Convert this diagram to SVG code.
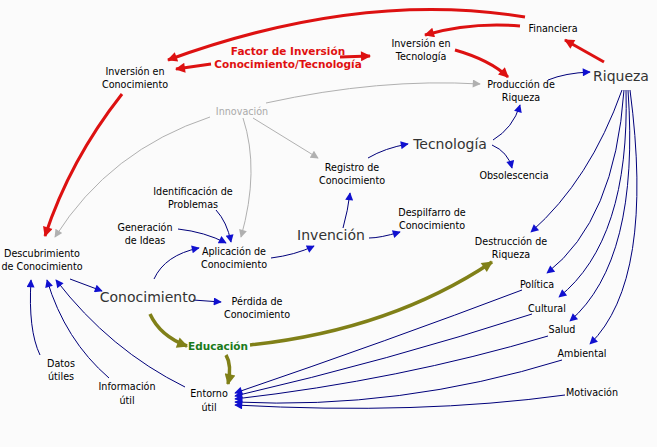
<svg xmlns="http://www.w3.org/2000/svg" width="657" height="447" viewBox="0 0 657 447">
<style>
text{font-family:"DejaVu Sans",sans-serif;font-size:9.6px;fill:#000;text-anchor:middle}
.big{font-size:14px;fill:#333}
.red{fill:#e01010;font-weight:bold;font-size:10.5px}
.grn{fill:#1a7a1a;font-weight:bold;font-size:10.5px}
.gray{fill:#aaa}
#connectors path{fill:none}
.b{stroke:#00007a;stroke-width:1;marker-end:url(#ab)}
.r{stroke:#dd1111;stroke-width:3;marker-end:url(#ar)}
.g{stroke:#b0b0b0;stroke-width:1;marker-end:url(#ag)}
.o{stroke:#808018;stroke-width:3.5;marker-end:url(#ao)}
</style>
<defs>
<marker id="ab" viewBox="0 0 10 10" refX="9" refY="5" markerWidth="12" markerHeight="8" orient="auto" markerUnits="userSpaceOnUse"><path d="M0,0L10,5L0,10z" fill="#1010d0"/></marker>
<marker id="ar" viewBox="0 0 10 10" refX="9" refY="5" markerWidth="15" markerHeight="10" orient="auto" markerUnits="userSpaceOnUse"><path d="M0,0L10,5L0,10z" fill="#dd1111"/></marker>
<marker id="ag" viewBox="0 0 10 10" refX="9" refY="5" markerWidth="12" markerHeight="8" orient="auto" markerUnits="userSpaceOnUse"><path d="M0,0L10,5L0,10z" fill="#b0b0b0"/></marker>
<marker id="ao" viewBox="0 0 10 10" refX="9" refY="5" markerWidth="15" markerHeight="11" orient="auto" markerUnits="userSpaceOnUse"><path d="M0,0L10,5L0,10z" fill="#808018"/></marker>
</defs>
<rect width="657" height="447" fill="#fbfbfb"/>
<g id="connectors">
<path class="r" d="M525,17 Q360,-10 168,60"/>
<path class="r" d="M520,26 Q470,22 425,35"/>
<path class="r" d="M211,64 L176,69"/>
<path class="r" d="M340,57 L370,56"/>
<path class="r" d="M455,50 Q490,60 508,77"/>
<path class="r" d="M604,62 L565,40"/>
<path class="r" d="M122,94 Q70,160 45,236"/>
<path class="b" d="M548,80 Q565,73 590,72"/>
<path class="g" d="M266,103 Q380,78 480,84"/>
<path class="g" d="M210,117 Q110,150 55,237"/>
<path class="g" d="M243,118 Q260,170 241,237"/>
<path class="g" d="M253,118 L318,158"/>
<path class="b" d="M368,158 Q385,148 408,144"/>
<path class="b" d="M493,140 Q513,128 520,105"/>
<path class="b" d="M492,145 Q508,152 512,168"/>
<path class="b" d="M343,228 Q348,210 350,193"/>
<path class="b" d="M369,238 Q380,238 400,232"/>
<path class="b" d="M271,258 Q295,255 314,246"/>
<path class="b" d="M178,229 Q205,232 226,243"/>
<path class="b" d="M216,210 Q227,222 231,242"/>
<path class="b" d="M154,279 Q165,255 199,248"/>
<path class="b" d="M70,279 L102,291"/>
<path class="b" d="M193,300 L221,302"/>
<path class="o" d="M150,314 Q160,336 187,346"/>
<path class="o" d="M226,355 Q232,365 228,384"/>
<path class="o" d="M250,345 Q390,330 492,262"/>
<path class="b" d="M40,355 Q28,330 31,280"/>
<path class="b" d="M109,378 Q65,340 47,280"/>
<path class="b" d="M185,387 Q110,350 56,280"/>
<path class="b" d="M622,90 Q590,180 531,232"/>
<path class="b" d="M624,90 Q615,220 547,273"/>
<path class="b" d="M626,90 Q630,240 559,297"/>
<path class="b" d="M628,90 Q640,260 570,321"/>
<path class="b" d="M630,90 Q655,280 590,344"/>
<path class="b" d="M522,290 Q390,340 235,393"/>
<path class="b" d="M532,314 Q390,360 235,396"/>
<path class="b" d="M548,336 Q400,380 235,399"/>
<path class="b" d="M562,360 Q400,410 235,402"/>
<path class="b" d="M565,395 Q420,415 235,405"/>
</g>
<g id="n1"><text x="135" y="75">Inversión en</text><text x="135" y="88">Conocimiento</text></g>
<g id="n2"><text class="red" x="288" y="55">Factor de Inversión</text><text class="red" x="288" y="68">Conocimiento/Tecnología</text></g>
<g id="n3"><text x="421" y="47">Inversión en</text><text x="421" y="60">Tecnología</text></g>
<g id="n4"><text x="553" y="32">Financiera</text></g>
<g id="n5"><text x="521" y="88">Producción de</text><text x="521" y="101">Riqueza</text></g>
<g id="n6"><text class="big" x="621" y="81">Riqueza</text></g>
<g id="n7"><text class="gray" x="242" y="115">Innovación</text></g>
<g id="n8"><text class="big" x="450" y="149">Tecnología</text></g>
<g id="n9"><text x="352" y="171">Registro de</text><text x="352" y="184">Conocimiento</text></g>
<g id="n10"><text x="514" y="179">Obsolescencia</text></g>
<g id="n11"><text x="193" y="195">Identificación de</text><text x="193" y="208">Problemas</text></g>
<g id="n12"><text x="145" y="231">Generación</text><text x="145" y="244">de Ideas</text></g>
<g id="n13"><text x="234" y="255">Aplicación de</text><text x="234" y="268">Conocimiento</text></g>
<g id="n14"><text class="big" x="331" y="240">Invención</text></g>
<g id="n15"><text x="432" y="216">Despilfarro de</text><text x="432" y="229">Conocimiento</text></g>
<g id="n16"><text x="511" y="245">Destrucción de</text><text x="511" y="258">Riqueza</text></g>
<g id="n17"><text x="42" y="257">Descubrimiento</text><text x="42" y="270">de Conocimiento</text></g>
<g id="n18"><text class="big" x="148" y="302">Conocimiento</text></g>
<g id="n19"><text x="257" y="305">Pérdida de</text><text x="257" y="318">Conocimiento</text></g>
<g id="n20"><text class="grn" x="218" y="350">Educación</text></g>
<g id="n21"><text x="537" y="288">Política</text></g>
<g id="n22"><text x="547" y="312">Cultural</text></g>
<g id="n23"><text x="562" y="333">Salud</text></g>
<g id="n24"><text x="582" y="357">Ambiental</text></g>
<g id="n25"><text x="592" y="396">Motivación</text></g>
<g id="n26"><text x="61" y="367">Datos</text><text x="61" y="380">útiles</text></g>
<g id="n27"><text x="127" y="390">Información</text><text x="127" y="404">útil</text></g>
<g id="n28"><text x="209" y="397">Entorno</text><text x="209" y="411">útil</text></g>
</svg>
